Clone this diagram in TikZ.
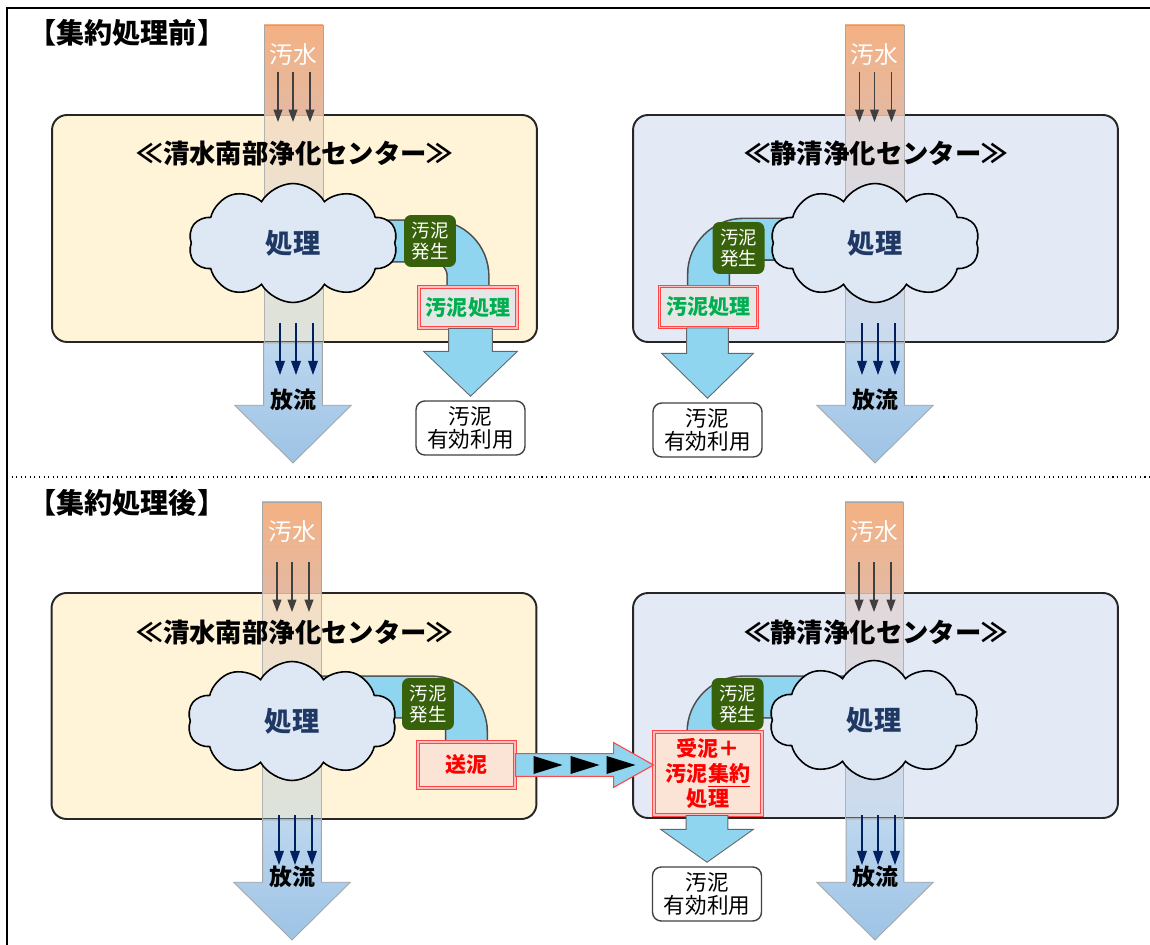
\documentclass[tikz,border=0pt]{standalone}
\usepackage{fontspec}
\setmainfont{Noto Sans CJK JP}
\usetikzlibrary{arrows.meta, calc, shapes.symbols}
\definecolor{creamY}{HTML}{FFF4D8}
\definecolor{paleB}{HTML}{E3E9F5}
\definecolor{cloudB}{HTML}{DEE8F5}
\definecolor{navy}{HTML}{1F3864}
\definecolor{pipeB}{HTML}{8FD5F0}
\definecolor{genG}{HTML}{38610B}
\definecolor{txtG}{HTML}{00B050}
\definecolor{slGray}{HTML}{E7E6E6}
\definecolor{peach}{HTML}{FBE4D5}
\definecolor{redL}{HTML}{FF4545}
\definecolor{orgT}{HTML}{F4B183}
\definecolor{orgB}{HTML}{E4B9A2}
\definecolor{outT}{HTML}{BDD7EE}
\definecolor{outB}{HTML}{9DC3E6}
\definecolor{dkgray}{HTML}{404040}
\definecolor{arrN}{HTML}{002060}
\newcommand\pxu{0.5669pt}
\pgfdeclarelayer{bg}
\pgfdeclarelayer{mid}
\pgfsetlayers{bg,mid,main}
% block arrow pointing down: style, from, tip, shaft/2, head/2, head length (px)
\newcommand\blkdown[6]{%
  \path[#1] let \p1=#2, \p2=#3 in
    (\x2-#4*\pxu,\y1) -- (\x2-#4*\pxu,\y2+#6*\pxu) -- (\x2-#5*\pxu,\y2+#6*\pxu)
    -- (\x2,\y2) -- (\x2+#5*\pxu,\y2+#6*\pxu) -- (\x2+#4*\pxu,\y2+#6*\pxu)
    -- (\x2+#4*\pxu,\y1) -- cycle;}
\tikzset{
  plant/.style={rectangle, draw=black!85, line width=1.1pt, rounded corners=8.5pt,
    minimum width=9.7cm, minimum height=4.54cm},
  plantY/.style={plant, fill=creamY},
  plantB/.style={plant, fill=paleB},
  ttl/.style={font=\bfseries\fontsize{15}{18}\selectfont},
  sec/.style={font=\bfseries\fontsize{16}{19}\selectfont, anchor=west, inner sep=0pt},
  proc/.style={cloud, cloud puffs=10, cloud puff arc=120, aspect=1.75, draw=black,
    line width=0.9pt, fill=cloudB, minimum width=4.18cm, minimum height=2.38cm,
    text=navy, font=\bfseries\fontsize{15.5}{18}\selectfont},
  gen/.style={rectangle, rounded corners=4pt, fill=genG, text=white, align=center,
    minimum width=1.04cm, minimum height=1.04cm, inner sep=1pt,
    font=\fontsize{10.5}{12}\selectfont},
  redbox/.style={rectangle, draw=redL, double=red!25, double distance=1pt,
    line width=0.6pt, align=center, inner sep=1pt, text=red,
    font=\bfseries\fontsize{12}{14}\selectfont},
  slbox/.style={redbox, fill=slGray, text=txtG, minimum width=1.96cm, minimum height=0.82cm},
  sdbox/.style={redbox, fill=peach, minimum width=1.94cm, minimum height=0.92cm},
  rcbox/.style={redbox, fill=peach, minimum width=2.16cm, minimum height=1.66cm},
  usebox/.style={rectangle, rounded corners=5pt, draw=black!75, line width=0.8pt,
    fill=white, align=center, minimum width=2.18cm, minimum height=1.08cm,
    inner sep=1pt, font=\fontsize{12.3}{13}\selectfont},
  intxt/.style={text=white, font=\fontsize{13.5}{16}\selectfont},
  outtxt/.style={font=\bfseries\fontsize{13}{15}\selectfont},
  orgcol/.style={top color=orgT, bottom color=orgB, draw=gray!70, line width=0.4pt},
  colfade/.style={top color=orgB, bottom color=outB, fill opacity=0.35,
    draw=gray!60, line width=0.4pt},
  outflow/.style={top color=outT, bottom color=outB, draw=gray!70, line width=0.5pt},
  slarrow/.style={fill=pipeB, draw=black!60, line width=0.5pt},
  pipeO/.style={draw=black!70, line width=24.6pt, rounded corners=20pt},
  pipeI/.style={draw=pipeB, line width=22.8pt, rounded corners=20pt},
  xfer/.style={fill=pipeB, draw=redL, line width=0.6pt},
  inarr/.style={-{Triangle[length=7pt, width=5pt]}, draw=dkgray, line width=0.7pt},
  outarr/.style={-{Triangle[length=8pt, width=5.5pt]}, draw=arrN, line width=0.7pt},
}

\begin{document}
\begin{tikzpicture}[x=0.02cm, y=-0.02cm]
  \useasboundingbox (0,0) rectangle (1150,945);

  % ---- Frame ----
  \draw[line width=1.1pt] (1150,8) -- (7,8) -- (7,945);
  \draw[dotted, line width=0.6pt] (7,477) -- (1150,477);

  % ==== Before ====
  \node[sec] (secA) at (28,33) {【集約処理前】};

  % ---- Shimizu south (before) ----
  \coordinate (in1) at (293,25);
  \coordinate (out1) at (293,463);
  \begin{pgfonlayer}{bg}
    \node[plantY] (p1) at (294.5,228.5) {};
    \path[orgcol] (264,25) rectangle (323,115);
    \blkdown{outflow}{(p1.south)}{(out1)}{29.5}{58.5}{58}
  \end{pgfonlayer}
  \node[proc] (c1) at (293,243) {処理};
  \node[gen] (g1) at (430,241) {汚泥\\発生};
  \node[slbox] (sl1) at (468,307.5) {汚泥処理};
  \node[usebox] (u1) at (470.5,428) {汚泥\\有効利用};
  \begin{pgfonlayer}{mid}
    \path[colfade] (264,115) rectangle (323,342);
    \draw[pipeO] (c1 |- g1) -| (sl1.north);
    \draw[pipeI] (c1 |- g1) -| (sl1.north);
  \end{pgfonlayer}
  \blkdown{slarrow}{(sl1.south)}{([yshift=2.3pt]u1.north)}{22}{47}{45}
  \node[ttl] (t1) at (295,153) {≪清水南部浄化センター≫};
  \node[intxt] (w1) at (293,55) {汚水};
  \node[outtxt] (f1) at (293,400) {放流};
  \foreach \dx in {-15,0,17}
    \draw[inarr] ($(in1)+(\dx,47)$) -- ++(0,50);
  \foreach \dx in {-13,3,20}
    \draw[outarr] ($(out1)+(\dx,-140)$) -- ++(0,52);

  % ---- Seisei (before) ----
  \coordinate (in2) at (874.5,25);
  \coordinate (out2) at (875,463);
  \begin{pgfonlayer}{bg}
    \node[plantB] (p2) at (875.5,228.5) {};
    \path[orgcol] (845,25) rectangle (904,115);
    \blkdown{outflow}{(p2.south)}{(out2)}{29.5}{58.5}{58}
  \end{pgfonlayer}
  \node[proc] (c2) at (875,243) {処理};
  \node[gen] (g2) at (738.5,248) {汚泥\\発生};
  \node[slbox] (sl2) at (708.5,307) {汚泥処理};
  \node[usebox] (u2) at (707.5,430) {汚泥\\有効利用};
  \begin{pgfonlayer}{mid}
    \path[colfade] (845,115) rectangle (904,342);
    \draw[pipeO] ([yshift=5pt]c2 |- g2) -| (sl2.north);
    \draw[pipeI] ([yshift=5pt]c2 |- g2) -| (sl2.north);
  \end{pgfonlayer}
  \blkdown{slarrow}{(sl2.south)}{([yshift=2.3pt]u2.north)}{21}{46}{45}
  \node[ttl] (t2) at (876,153) {≪静清浄化センター≫};
  \node[intxt] (w2) at (874.5,55) {汚水};
  \node[outtxt] (f2) at (875,400) {放流};
  \foreach \dx in {-15,0,17}
    \draw[inarr] ($(in2)+(\dx,47)$) -- ++(0,50);
  \foreach \dx in {-13,3,20}
    \draw[outarr] ($(out2)+(\dx,-140)$) -- ++(0,52);

  % ==== After ====
  \node[sec] (secB) at (28,503) {【集約処理後】};

  % ---- Shimizu south (after) ----
  \coordinate (in3) at (292,502);
  \coordinate (out3) at (292,940);
  \begin{pgfonlayer}{bg}
    \node[plantY, minimum height=4.52cm] (p3) at (294,706) {};
    \path[orgcol] (262,502) rectangle (321,593);
    \blkdown{outflow}{(p3.south)}{(out3)}{29.5}{58.5}{58}
  \end{pgfonlayer}
  \node[proc] (c3) at (292,721) {処理};
  \node[gen] (g3) at (428,704) {汚泥\\発生};
  \node[sdbox] (sd) at (466.5,765) {送泥};
  \node[rcbox] (rc) at (708,773.5) {受泥＋\\汚泥\underline{集約}\\処理};
  \begin{pgfonlayer}{mid}
    \path[colfade] (262,593) rectangle (321,819);
    \draw[pipeO] ([yshift=4pt]c3 |- g3) -| (sd.north);
    \draw[pipeI] ([yshift=4pt]c3 |- g3) -| (sd.north);
  \end{pgfonlayer}
  \node[ttl] (t3) at (295,632) {≪清水南部浄化センター≫};
  \node[intxt] (w3) at (292,532) {汚水};
  \node[outtxt] (f3) at (292,877) {放流};
  \foreach \dx in {-15,0,17}
    \draw[inarr] ($(in3)+(\dx,60)$) -- ++(0,50);
  \foreach \dx in {-13,3,20}
    \draw[outarr] ($(out3)+(\dx,-125)$) -- ++(0,50);

  % ---- Sludge transfer ----
  \path[xfer] let \p1=(sd.east), \p2=(rc.west) in
    (\x1,\y1+11.5*\pxu) -- (\x2-40*\pxu,\y1+11.5*\pxu) -- (\x2-40*\pxu,\y1+22.5*\pxu)
    -- (\x2,\y1) -- (\x2-40*\pxu,\y1-22.5*\pxu) -- (\x2-40*\pxu,\y1-11.5*\pxu)
    -- (\x1,\y1-11.5*\pxu) -- cycle;
  \foreach \dx in {18,55,91}
    \fill ($(sd.east)+(\dx,-9)$) -- ++(29,9) -- ++(-29,9) -- cycle;

  % ---- Seisei (after) ----
  \coordinate (in4) at (874,502);
  \coordinate (out4) at (875,940);
  \begin{pgfonlayer}{bg}
    \node[plantB, minimum height=4.5cm] (p4) at (875.5,705.5) {};
    \path[orgcol] (845,502) rectangle (903,593);
    \blkdown{outflow}{(p4.south)}{(out4)}{29}{58.5}{58}
  \end{pgfonlayer}
  \node[proc] (c4) at (874,720) {処理};
  \node[gen] (g4) at (737.5,704) {汚泥\\発生};
  \node[usebox] (u4) at (707,894) {汚泥\\有効利用};
  \begin{pgfonlayer}{mid}
    \path[colfade] (845,593) rectangle (903,818);
    \draw[pipeO] ([yshift=4pt]c4 |- g4) -| (rc.north);
    \draw[pipeI] ([yshift=4pt]c4 |- g4) -| (rc.north);
  \end{pgfonlayer}
  \blkdown{slarrow}{(rc.south)}{([yshift=2.3pt]u4.north)}{21}{46.5}{33}
  \node[ttl] (t4) at (876,632) {≪静清浄化センター≫};
  \node[intxt] (w4) at (874,532) {汚水};
  \node[outtxt] (f4) at (875,877) {放流};
  \foreach \dx in {-15,0,17}
    \draw[inarr] ($(in4)+(\dx,60)$) -- ++(0,50);
  \foreach \dx in {-13,3,20}
    \draw[outarr] ($(out4)+(\dx,-125)$) -- ++(0,50);
\end{tikzpicture}
\end{document}
